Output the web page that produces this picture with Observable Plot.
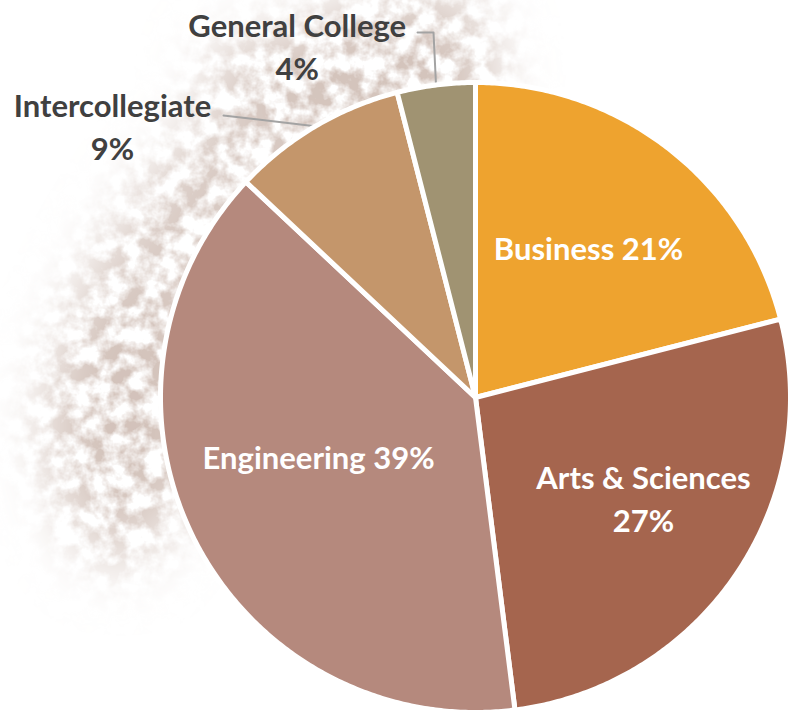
<!DOCTYPE html>
<html>
<head>
<meta charset="utf-8">
<script src="https://cdn.jsdelivr.net/npm/d3@7"></script>
<script src="https://cdn.jsdelivr.net/npm/@observablehq/plot@0.6"></script>
<style>
  body { margin: 0; background: #ffffff; }
  #wrap { position: relative; width: 797px; height: 713px; overflow: hidden; }
  #bg { position: absolute; left: 0; top: 0; }
  #chart { position: absolute; left: 0; top: 0; }
</style>
</head>
<body>
<div id="wrap">
  <svg id="bg" width="797" height="713">
    <defs>
      <filter id="dust" filterUnits="userSpaceOnUse" x="0" y="0" width="797" height="713">
        <feTurbulence type="fractalNoise" baseFrequency="0.055" numOctaves="4" seed="11" result="noise"/>
        <feColorMatrix in="noise" type="matrix"
          values="0 0 0 0 0.64  0 0 0 0 0.53  0 0 0 0 0.48  0 0 0 3.2 -1.15" result="spots"/>
        <feGaussianBlur in="SourceGraphic" stdDeviation="30" result="blob"/>
        <feComposite in="spots" in2="blob" operator="in"/>
      </filter>
    </defs>
    <g filter="url(#dust)">
      <ellipse cx="270" cy="250" rx="320" ry="140" fill="#000" fill-opacity="0.85" transform="rotate(-52 270 250)"/>
      <ellipse cx="350" cy="70" rx="150" ry="45" fill="#000" fill-opacity="0.8"/>
      <ellipse cx="120" cy="430" rx="70" ry="140" fill="#000" fill-opacity="0.8"/>
    </g>
  </svg>
  <div id="chart"></div>
</div>
<script>
// ---- data ----
const categories = ["Business", "Arts & Sciences", "Engineering", "Intercollegiate", "General College"];
const shares = [21, 27, 39, 9, 4];
const colors = ["#EEA32F", "#A5654E", "#B5897D", "#C4966B", "#A09372"];
const labelTexts = ["Business 21%", "Arts & Sciences\n27%", "Engineering 39%", "Intercollegiate\n9%", "General College\n4%"];

// ---- layout (polar label placement: degrees clockwise from top, radius as fraction of pie radius) ----
const labelAngle = [36.8, 120.5, 249.7, 306.9, 333.2];
const labelRadius = [0.599, 0.619, 0.531, 1.441, 1.255];
const labelInside = [true, true, true, false, false];

const W = 797, H = 713, R = 315, CX = 475, CY = 397;

const data = categories.map((name, i) => ({ name, share: shares[i], color: colors[i] }));
const arcs = d3.pie().sort(null).value(d => d.share)(data);

// slice outlines as polygons in unit-radius coordinates
const slicePts = [];
for (const a of arcs) {
  const n = Math.max(8, Math.ceil((a.endAngle - a.startAngle) / (Math.PI / 360)));
  slicePts.push({ name: a.data.name, x: 0, y: 0 });
  for (let k = 0; k <= n; k++) {
    const t = a.startAngle + (a.endAngle - a.startAngle) * k / n;
    slicePts.push({ name: a.data.name, x: Math.sin(t), y: Math.cos(t) });
  }
  slicePts.push({ name: a.data.name, x: 0, y: 0 });
}

const labels = categories.map((name, i) => {
  const t = labelAngle[i] * Math.PI / 180;
  return { name, text: labelTexts[i], x: labelRadius[i] * Math.sin(t), y: labelRadius[i] * Math.cos(t), inside: labelInside[i] };
});

// leader lines for outside labels: from slice mid-angle on the rim to the label
const px = (x, y) => ({ x: (x - CX) / R, y: (CY - y) / R });
const mid = i => (arcs[i].startAngle + arcs[i].endAngle) / 2;
const leaders = [
  { name: "Intercollegiate", x: Math.sin(mid(3)), y: Math.cos(mid(3)) },
  { name: "Intercollegiate", ...px(223, 115) },
  { name: "General College", x: Math.sin(mid(4)), y: Math.cos(mid(4)) },
  { name: "General College", ...px(433, 32) },
  { name: "General College", ...px(417, 32) }
];

const chart = Plot.plot({
  width: W,
  height: H,
  margin: 0,
  style: { background: "transparent", fontFamily: "Lato, 'Open Sans', sans-serif", overflow: "visible" },
  x: { domain: [-CX / R, (W - CX) / R], axis: null },
  y: { domain: [-(H - CY) / R, CY / R], axis: null },
  color: { domain: categories, range: colors },
  marks: [
    Plot.line(leaders, { x: "x", y: "y", z: "name", stroke: "#a3a3a3", strokeWidth: 2 }),
    Plot.line(slicePts, { x: "x", y: "y", z: "name", fill: "name", stroke: "white", strokeWidth: 5, strokeLinejoin: "round" }),
    Plot.text(labels.filter(d => d.inside), { x: "x", y: "y", text: "text", fill: "white", fontSize: 31, fontWeight: "bold", lineHeight: 1.38 }),
    Plot.text(labels.filter(d => !d.inside), { x: "x", y: "y", text: "text", fill: "#404040", fontSize: 31, fontWeight: "bold", lineHeight: 1.38 })
  ]
});
document.getElementById("chart").appendChild(chart);
</script>
</body>
</html>
